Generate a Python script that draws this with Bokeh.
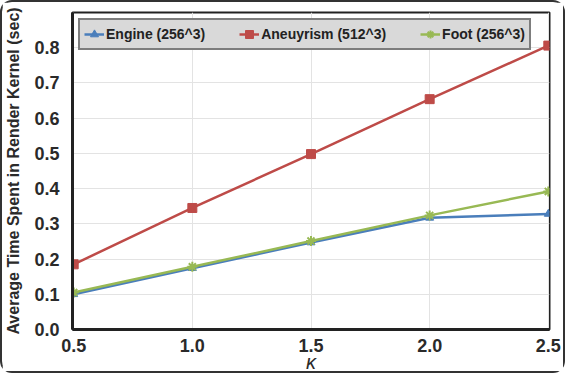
from bokeh.plotting import figure
from bokeh.models import Range1d, FixedTicker, Legend, LegendItem, CustomJSTickFormatter
from bokeh.embed import file_html
from bokeh.resources import INLINE

kappa = [0.5, 1.0, 1.5, 2.0, 2.5]
engine = [0.100, 0.174, 0.247, 0.317, 0.328]
aneurysm = [0.185, 0.345, 0.498, 0.654, 0.806]
foot = [0.105, 0.178, 0.251, 0.324, 0.392]
x_ticks = [0.5, 1.0, 1.5, 2.0, 2.5]
y_ticks = [0.0, 0.1, 0.2, 0.3, 0.4, 0.5, 0.6, 0.7, 0.8]

FONT = "Liberation Sans"

p = figure(width=565, height=373, output_backend="svg", toolbar_location=None,
           x_range=Range1d(0.495, 2.505), y_range=Range1d(0.0, 0.9),
           min_border_left=10, min_border_right=18, min_border_top=10, min_border_bottom=4)
p.styles = {"border": "2px solid #333", "border-radius": "12px", "box-sizing": "border-box"}

p.xaxis.ticker = FixedTicker(ticks=x_ticks)
p.yaxis.ticker = FixedTicker(ticks=y_ticks)
p.xaxis.formatter = CustomJSTickFormatter(code="return tick.toFixed(1);")
p.yaxis.formatter = CustomJSTickFormatter(code="return tick.toFixed(1);")

for ax in (p.xaxis[0], p.yaxis[0]):
    ax.major_label_text_font = FONT
    ax.major_label_text_font_style = "bold"
    ax.major_label_text_font_size = "18px"
    ax.major_label_text_color = "#2a2a2a"
    ax.axis_line_width = 3
    ax.axis_line_color = "#222222"
    ax.major_tick_line_color = None
    ax.minor_tick_line_color = None
    ax.axis_label_text_color = "#2a2a2a"

p.xaxis.axis_label = "κ"
p.xaxis.axis_label_text_font = FONT
p.xaxis.axis_label_text_font_style = "italic"
p.xaxis.axis_label_text_font_size = "20px"
p.xaxis.axis_label_standoff = -4
p.xaxis.major_label_standoff = 3

p.yaxis.axis_label = "Average Time Spent in Render Kernel (sec)"
p.yaxis.axis_label_text_font = FONT
p.yaxis.axis_label_text_font_style = "bold"
p.yaxis.axis_label_text_font_size = "16px"
p.yaxis.axis_label_standoff = 9
p.yaxis.major_label_standoff = 7

p.xgrid.grid_line_color = "#e3e3e3"
p.ygrid.grid_line_color = "#e3e3e3"
p.outline_line_color = "#222222"
p.outline_line_width = 2

c_eng = "#4a7ebb"
c_aneu = "#be4b48"
c_foot = "#98b954"

l1 = p.line(kappa, engine, line_color=c_eng, line_width=2.5)
m1 = p.scatter(kappa, engine, marker="triangle", size=8, color=c_eng)
l2 = p.line(kappa, aneurysm, line_color=c_aneu, line_width=2.5)
m2 = p.scatter(kappa, aneurysm, marker="square", size=9, color=c_aneu)
l3 = p.line(kappa, foot, line_color=c_foot, line_width=2.5)
m3 = p.scatter(kappa, foot, marker="asterisk", size=10, line_color=c_foot, line_width=2)

legend = Legend(items=[
    LegendItem(label="Engine (256^3)", renderers=[l1, m1]),
    LegendItem(label="Aneuyrism (512^3)", renderers=[l2, m2]),
    LegendItem(label="Foot (256^3)", renderers=[l3, m3]),
], orientation="horizontal", location="top_left")
legend.label_text_font = FONT
legend.label_text_font_style = "bold"
legend.label_text_font_size = "14px"
legend.label_text_color = "#222222"
legend.background_fill_color = "#d9d9d9"
legend.background_fill_alpha = 1
legend.border_line_color = "#222222"
legend.border_line_width = 2
legend.spacing = 34
legend.padding = 4
legend.margin = 6
legend.glyph_width = 20
legend.label_standoff = 2
p.add_layout(legend)

open("out.html", "w").write(file_html(p, INLINE))
